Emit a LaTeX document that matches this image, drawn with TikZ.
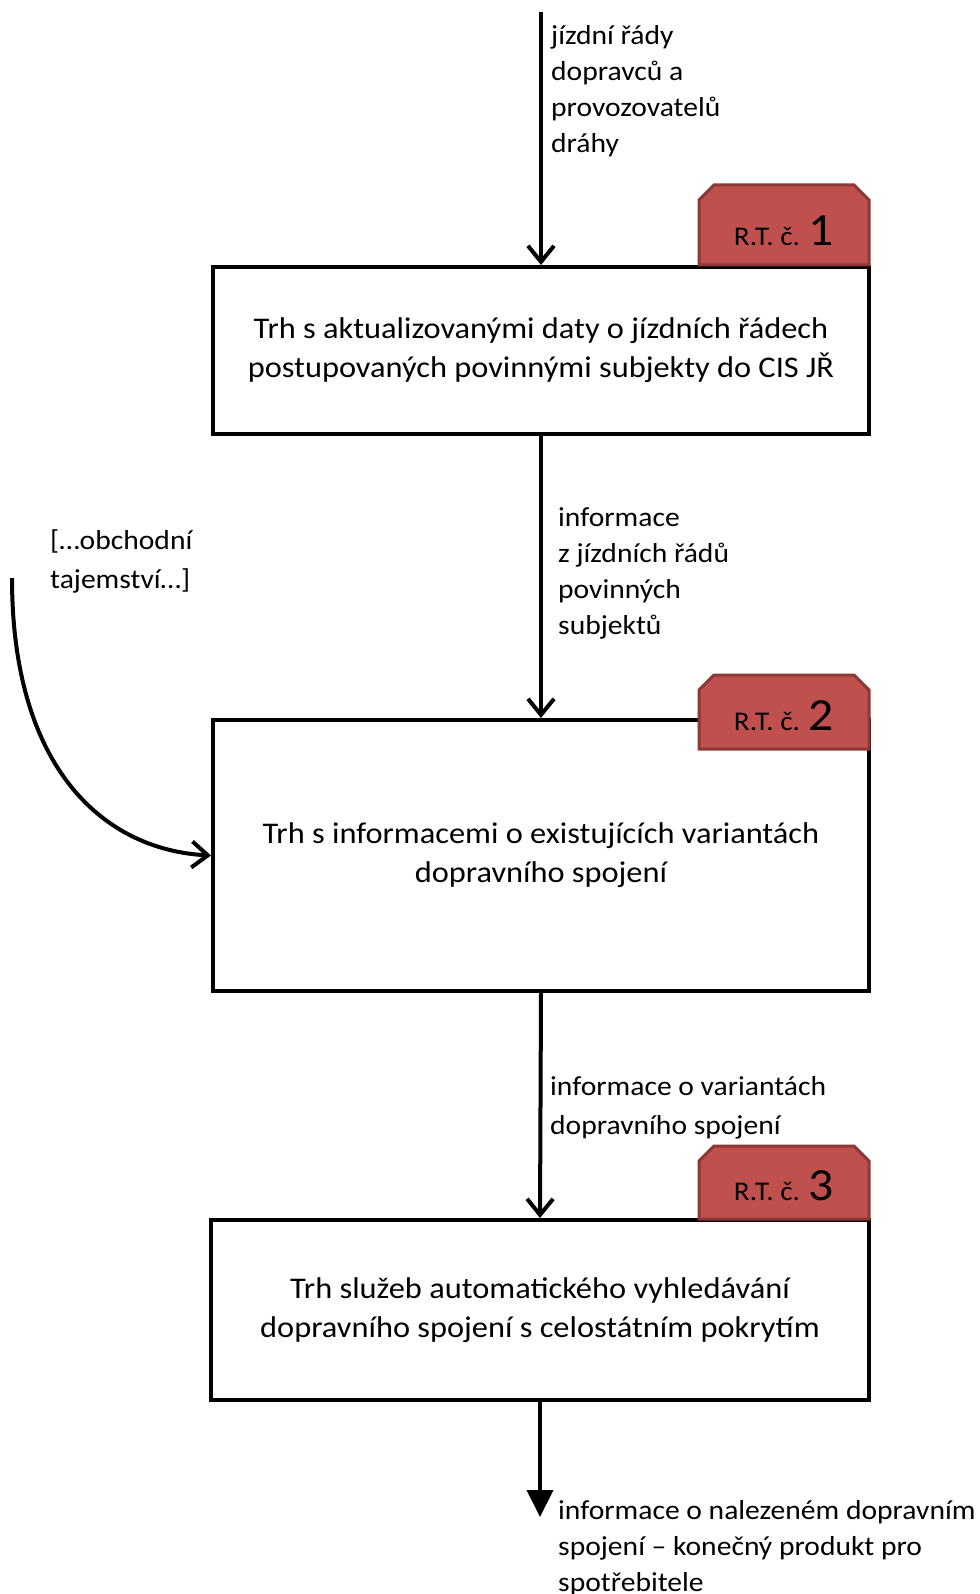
\documentclass[tikz,border=0pt]{standalone}
\usepackage{fontspec}
\setmainfont{Carlito}[FakeStretch=1.08]
\usetikzlibrary{arrows.meta}
\definecolor{tabfill}{HTML}{C0504D}
\definecolor{tabdraw}{HTML}{8C3836}
\begin{document}
\begin{tikzpicture}[x=1pt,y=-1pt,
  box/.style={draw=black,line width=4pt,fill=white,align=center,inner sep=0pt,
    font=\fontsize{30}{39}\selectfont},
  tabshape/.style={draw=tabdraw,fill=tabfill,line width=3pt,line join=miter},
  tabtext/.style={inner sep=0pt,anchor=base},
  lbl/.style={align=left,inner sep=0pt,anchor=north west,font=\fontsize{27.4}{36}\selectfont},
  arr/.style={line width=4pt,-{Straight Barb[length=16pt,width=26pt]}},
  farr/.style={line width=4pt,-{Triangle[length=27pt,width=26pt]}}
]
\useasboundingbox (0,0) rectangle (979,1594);
\fill[white] (0,0) rectangle (979,1594);

% boxes
\node[box,minimum width=656pt,minimum height=167pt] (b1) at (541,350.5)
  {Trh s aktualizovanými daty o jízdních řádech\\postupovaných povinnými subjekty do CIS JŘ};
\node[box,minimum width=656pt,minimum height=271pt] (b2) at (541,855.5)
  {Trh s informacemi o existujících variantách\\dopravního spojení};
\node[box,minimum width=658pt,minimum height=180pt] (b3) at (540,1310)
  {Trh služeb automatického vyhledávání\\dopravního spojení s celostátním pokrytím};

% tabs
\newcommand{\tabat}[4]{% #1 name, #2 top y, #3 bottom y, #4 number
  \draw[tabshape] (699,#3) -- (699,#2+15) -- (714,#2) -- (854,#2) -- (869,#2+15) -- (869,#3) -- cycle;
  \node[tabtext] (#1) at (784,#3-19) {\fontsize{27}{27}\selectfont R.T. č. \fontsize{46}{46}\selectfont #4};
}
\tabat{t1}{185}{265}{1}
\tabat{t2}{675}{749}{2}
\tabat{t3}{1146}{1219}{3}

% labels
\node[lbl] (l1) at (551,25) {jízdní řády\\dopravců a\\provozovatelů\\dráhy};
\node[lbl] (l2) at (558,507) {informace\\z jízdních řádů\\povinných\\subjektů};
\node[lbl,font=\fontsize{27.4}{39}\selectfont] (l3) at (50,529) {[…obchodní\\tajemství…]};
\node[lbl,font=\fontsize{27.4}{39}\selectfont] (l4) at (550,1076) {informace o variantách\\dopravního spojení};
\node[lbl] (l5) at (558,1500) {informace o nalezeném dopravním\\spojení – konečný produkt pro\\spotřebitele};

% connectors
\coordinate (s1) at (541,12);
\coordinate (s3) at (12,578);
\coordinate (e4) at (540,1517);
\draw[arr] (s1) -- (b1.north);
\draw[arr] (b1.south) -- (b2.north);
\draw[arr] (b2.south) -- (b3.north);
\draw[arr] (s3) .. controls (12,770) and (105,850) .. (b2.west);
\draw[farr] (b3.south) -- (e4);
\end{tikzpicture}
\end{document}
